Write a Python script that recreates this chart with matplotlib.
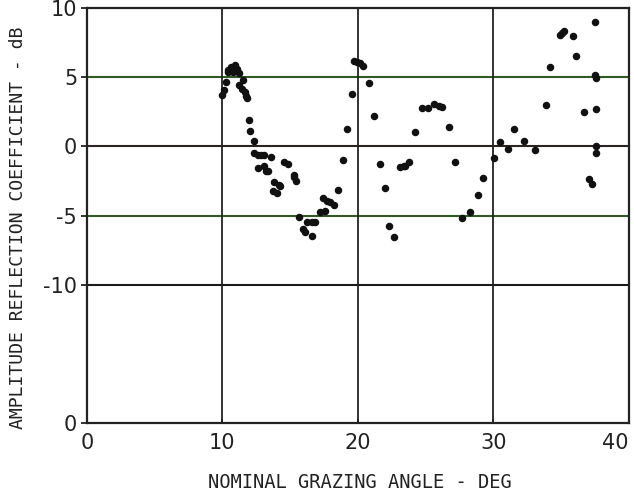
import matplotlib
matplotlib.use("Agg")
import matplotlib.pyplot as plt

# grazing angle (deg) and amplitude reflection coefficient (dB)
angle = [10.0, 10.15, 10.3, 10.45, 10.65, 10.8, 10.9, 11.1, 11.25, 10.45,
         11.25, 11.45, 11.5, 11.7, 11.75, 11.85,
         11.95, 12.05, 12.35, 12.35, 12.65, 12.85, 13.1, 13.6, 12.6,
         13.1, 13.25, 13.4, 14.55, 14.85, 13.8, 14.2, 14.25, 13.75, 14.0,
         15.3, 15.3, 15.45, 15.65, 16.25, 16.6, 16.85, 15.95, 16.1, 16.6,
         17.4, 17.7, 17.95, 18.25, 17.2, 17.55, 18.55, 18.9, 19.2, 19.55,
         19.7, 19.9, 20.15, 20.35, 20.8, 21.2, 21.6, 22.0, 22.3, 22.7,
         23.1, 23.4, 23.45, 23.8, 24.25, 24.7, 25.2, 25.65, 25.95, 26.2,
         26.75, 27.2, 27.7, 28.25, 28.85, 29.25, 30.05, 30.45, 31.05, 31.5,
         32.25, 33.1, 33.9, 34.15, 34.9, 35.05, 35.2, 35.9, 36.1, 36.65,
         37.05, 37.3, 37.5, 37.5, 37.6, 37.6, 37.6, 37.6]
refl = [3.7, 4.1, 4.65, 5.4, 5.7, 5.4, 5.9, 5.6, 5.3, 5.5,
        4.4, 4.15, 4.8, 3.95, 3.65, 3.5,
        1.9, 1.1, 0.35, -0.45, -0.6, -0.65, -0.65, -0.75, -1.6,
        -1.4, -1.75, -1.8, -1.15, -1.3, -2.55, -2.8, -2.9, -3.2, -3.35,
        -2.05, -2.25, -2.5, -5.1, -5.5, -5.5, -5.5, -6.0, -6.2, -6.5,
        -3.7, -3.95, -4.0, -4.25, -4.75, -4.65, -3.15, -1.0, 1.25, 3.8,
        6.2, 6.1, 6.0, 5.8, 4.6, 2.2, -1.3, -3.0, -5.75, -6.55,
        -1.5, -1.4, -1.4, -1.1, 1.0, 2.8, 2.8, 3.05, 2.9, 2.85,
        1.4, -1.1, -5.2, -4.75, -3.5, -2.3, -0.85, 0.3, -0.2, 1.25,
        0.35, -0.3, 2.95, 5.7, 8.05, 8.2, 8.3, 8.0, 6.55, 2.5,
        -2.35, -2.7, 9.0, 5.15, 4.95, 2.7, 0.0, -0.5]

ytick_pos = [-20, -10, -5, 0, 5, 10]
ytick_lbl = ["0", "-10", "-5", "0", "5", "10"]
xtick_pos = [0, 10, 20, 30, 40]

mono = "DejaVu Sans Mono"
ink = "#222222"

fig = plt.figure(figsize=(6.34, 4.96), dpi=100)
ax = fig.add_axes([0.137, 0.147, 0.855, 0.837])

# grid: green lines at +/-5 dB, dark ones at 0 and -10
for y, c in [(5, "#2f5a22"), (-5, "#2f5a22"), (0, "#2b2420"), (-10, "#1a1a1a")]:
    ax.axhline(y, color=c, lw=1.5, zorder=1)
for x in [10, 20, 30]:
    ax.axvline(x, color=ink, lw=1.3, zorder=1)

ax.plot(angle, refl, "o", color="#111111", ms=4.4, mec="#111111", zorder=3)

ax.set_xlim(0, 40)
ax.set_ylim(-20, 10)
ax.set_xticks(xtick_pos)
ax.set_xticklabels([str(v) for v in xtick_pos], fontsize=15, color=ink)
ax.get_xticklabels()[-1].set_ha("right")
ax.set_yticks(ytick_pos)
ax.set_yticklabels(ytick_lbl, fontsize=15, color=ink)
ax.tick_params(axis="y", direction="out", length=4, width=1.3, pad=3, color=ink)
ax.tick_params(axis="x", direction="in", length=3, width=1.3, pad=7, color=ink)
for s in ax.spines.values():
    s.set_linewidth(1.6)
    s.set_color(ink)

fig.text(0.567, 1 - 482 / 496, "NOMINAL GRAZING ANGLE - DEG", fontsize=13.5,
         family=mono, color=ink, ha="center", va="center")
fig.text(18 / 634, 1 - 228 / 496, "AMPLITUDE REFLECTION COEFFICIENT - dB",
         fontsize=13.1, family=mono, color=ink, ha="center", va="center",
         rotation=90)

fig.savefig("out.png", dpi=100)
